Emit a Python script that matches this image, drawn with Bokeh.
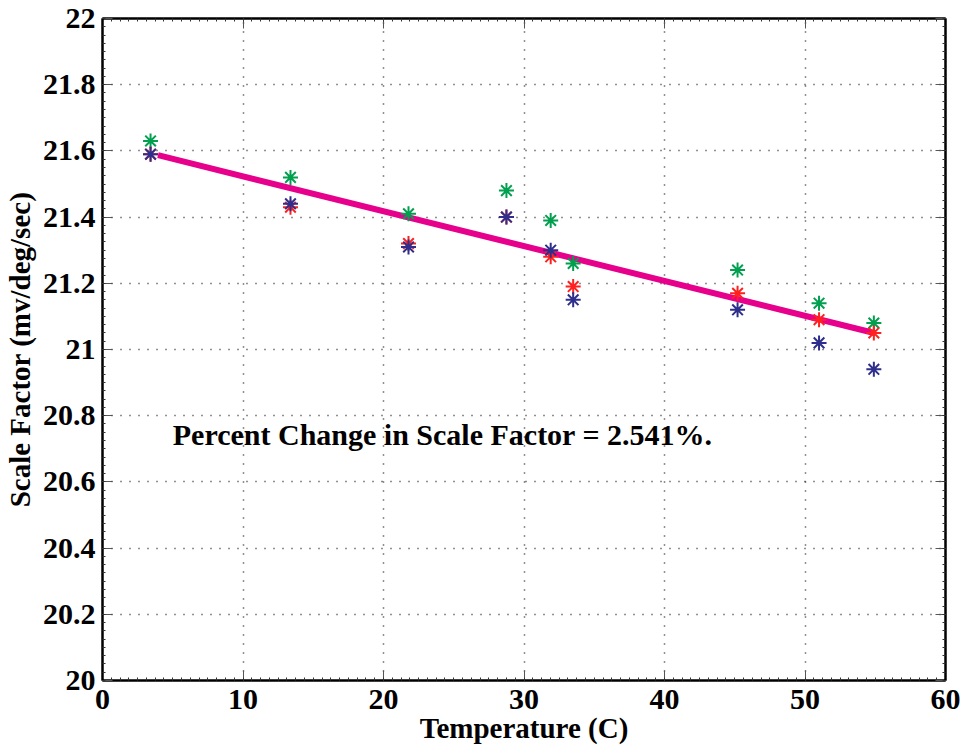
from bokeh.plotting import figure
from bokeh.models import (Range1d, LinearAxis, SingleIntervalTicker, CustomJSTickFormatter,
                          ColumnDataSource, Label)
from bokeh.embed import file_html
from bokeh.resources import INLINE

# Temperature set points (C)
temperature = [3.42, 13.38, 21.78, 28.75, 31.9, 33.5, 45.2, 51.0, 54.9]

# Scale factor (mv/deg/sec) for the three runs
run_green = [21.63, 21.52, 21.41, 21.48, 21.39, 21.26, 21.24, 21.14, 21.08]
run_red = [21.59, 21.43, 21.32, 21.40, 21.28, 21.19, 21.17, 21.09, 21.05]
run_blue = [21.59, 21.44, 21.31, 21.40, 21.30, 21.15, 21.12, 21.02, 20.94]

# Linear fit endpoints
fit_x = [3.95, 55.0]
fit_y = [21.587, 21.049]

annotation = "Percent Change in Scale Factor = 2.541%."

FONT = "Liberation Serif"

p = figure(width=965, height=752, output_backend="svg", toolbar_location=None,
           x_range=Range1d(0, 60), y_range=Range1d(20, 22),
           min_border_left=102, min_border_right=20, min_border_top=18, min_border_bottom=72,
           background_fill_color="white", border_fill_color="white")
p.outline_line_color = "black"
p.outline_line_width = 2

fmt = CustomJSTickFormatter(code="""
    const s = tick.toFixed(1);
    return s.endsWith('.0') ? s.slice(0, -2) : s;
""")
blank = CustomJSTickFormatter(code="return '';")

p.xaxis[0].ticker = SingleIntervalTicker(interval=10, num_minor_ticks=16)
p.yaxis[0].ticker = SingleIntervalTicker(interval=0.2, num_minor_ticks=8)
p.yaxis[0].formatter = fmt

for ax in (p.xaxis[0], p.yaxis[0]):
    ax.axis_line_width = 2
    ax.axis_line_color = "black"
    ax.major_tick_in = 10
    ax.major_tick_out = 0
    ax.minor_tick_in = 3
    ax.minor_tick_out = 0
    ax.major_tick_line_color = "#555555"
    ax.minor_tick_line_color = "#333333"
    ax.major_label_text_font = FONT
    ax.major_label_text_font_style = "bold"
    ax.major_label_text_font_size = "30px"
    ax.major_label_text_color = "black"
    ax.axis_label_text_font = FONT
    ax.axis_label_text_font_style = "bold"
    ax.axis_label_text_font_size = "29px"
    ax.axis_label_text_color = "black"

p.xaxis[0].axis_label = "Temperature (C)"
p.xaxis[0].major_label_standoff = 9
p.xaxis[0].axis_label_standoff = 0
p.yaxis[0].axis_label = "Scale Factor (mv/deg/sec)"
p.yaxis[0].major_label_standoff = 7
p.yaxis[0].axis_label_standoff = 4

# Mirrored tick marks on the top and right edges
for loc, interval, nminor in (("above", 10, 16), ("right", 0.2, 8)):
    ax = LinearAxis(ticker=SingleIntervalTicker(interval=interval, num_minor_ticks=nminor),
                    formatter=blank)
    ax.major_label_standoff = 0
    ax.axis_line_width = 2
    ax.axis_line_color = "black"
    ax.major_tick_in = 10
    ax.major_tick_out = 0
    ax.minor_tick_in = 3
    ax.minor_tick_out = 0
    ax.major_tick_line_color = "#555555"
    ax.minor_tick_line_color = "#333333"
    p.add_layout(ax, loc)

p.grid.grid_line_color = "#222222"
p.grid.grid_line_dash = "1 8"
p.grid.grid_line_width = 1.5
p.xgrid.ticker = SingleIntervalTicker(interval=10)
p.ygrid.ticker = SingleIntervalTicker(interval=0.2)

p.line(fit_x, fit_y, line_color="#e6008c", line_width=6)

src = ColumnDataSource(dict(t=temperature, g=run_green, r=run_red, b=run_blue))
p.scatter("t", "g", source=src, marker="asterisk", size=15, line_color="#00a04f", line_width=2)
p.scatter("t", "r", source=src, marker="asterisk", size=15, line_color="#ff2020", line_width=2)
p.scatter("t", "b", source=src, marker="asterisk", size=15, line_color="#2e2e8c", line_width=2)

p.add_layout(Label(x=5.0, y=20.743, text=annotation, text_font=FONT,
                   text_font_style="bold", text_font_size="30px",
                   text_baseline="middle", text_color="black"))

open("out.html", "w").write(file_html(p, INLINE))
